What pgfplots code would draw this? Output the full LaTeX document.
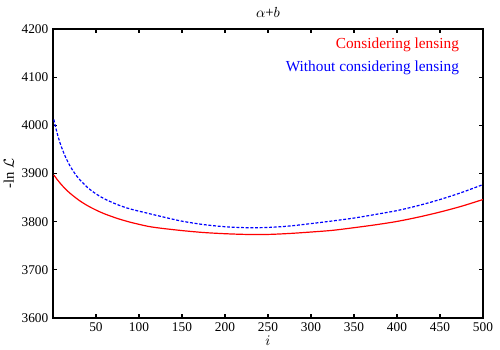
\documentclass[border=0pt]{standalone}
\usepackage{pgfplots}
\usepackage{fontspec}
\setmainfont{Liberation Serif}
\pgfplotsset{compat=1.18}

\begin{document}
\begin{tikzpicture}
% page frame: 1px of the reference = 0.75pt
\path[use as bounding box] (-39.75pt,-24pt) rectangle (335.25pt,238.5pt);
\begin{axis}[
  scale only axis,
  width=322.5pt, height=216.75pt,
  xmin=0, xmax=500, ymin=3600, ymax=4200,
  xtick={50,100,...,500},
  ytick={3600,3700,...,4200},
  tick align=inside,
  major tick length=3pt,
  axis line style={line width=1pt},
  every tick/.style={black, line width=0.8pt},
  /pgf/number format/assume math mode=true,
  /pgf/number format/1000 sep={},
  ticklabel style={font=\fontsize{10}{12}\selectfont},
  xlabel={$i$},
  ylabel={-ln $\mathcal{L}$},
  xlabel style={font=\fontsize{11}{12}\selectfont, yshift=4pt},
  ylabel style={font=\fontsize{11}{12}\selectfont, yshift=-1pt},
  title={$\alpha$+$b$},
  title style={font=\fontsize{11}{12}\selectfont, yshift=-1pt},
]
% Considering lensing
\addplot[red, line width=0.9pt, smooth] coordinates {
(1,3897) (5,3887.2) (10,3876.4) (15,3867) (20,3858.7) (30,3844.7) (40,3833.4)
(50,3824.1) (60,3816.2) (75,3806.6) (90,3798.8) (110,3790.5) (125,3786.5)
(150,3781.5) (175,3777.5) (200,3775) (225,3773.5) (250,3773.5) (275,3775.5)
(300,3778.5) (325,3782) (350,3787.5) (375,3793.5) (400,3800.5) (425,3809.5)
(450,3820) (475,3832) (500,3846)
};
% Without considering lensing
\addplot[blue, line width=0.9pt, smooth, dash pattern=on 2.2pt off 1.3pt] coordinates {
(1,4012.1) (3,3996.4) (6,3976.2) (10,3954.2) (15,3932.4) (20,3915.1) (25,3901)
(30,3889.4) (40,3871.2) (50,3857.7) (60,3847.2) (75,3835.3) (90,3826.3)
(110,3817.5) (130,3809) (150,3801) (175,3794) (200,3789.5) (225,3787.5)
(250,3788) (275,3791) (300,3796) (325,3801.5) (350,3807.5) (375,3815)
(400,3823) (425,3833.5) (450,3846) (475,3860.5) (500,3877)
};
\node[anchor=east, text=red, font=\fontsize{11.5}{13}\selectfont] at (rel axis cs:0.955,0.945) {Considering lensing};
\node[anchor=east, text=blue, font=\fontsize{11.5}{13}\selectfont] at (rel axis cs:0.955,0.865) {Without considering lensing};
\end{axis}
\end{tikzpicture}
\end{document}
